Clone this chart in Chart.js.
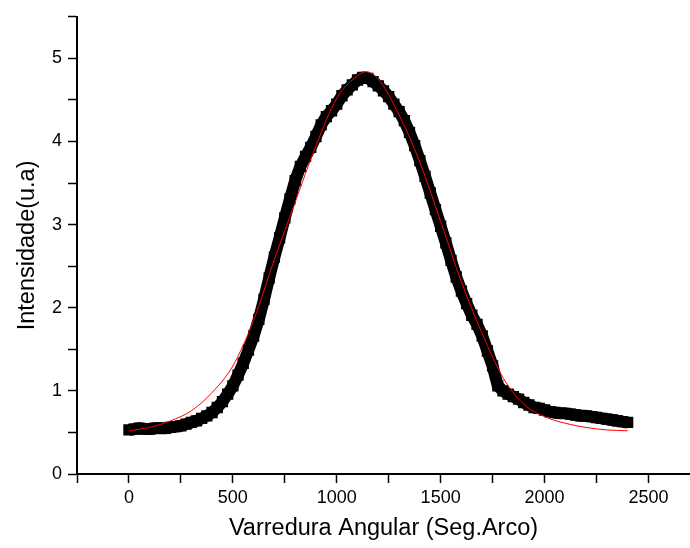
<!DOCTYPE html>
<html>
<head>
<meta charset="utf-8">
<script src="https://cdn.jsdelivr.net/npm/chart.js@4"></script>
<style>
  html, body { margin: 0; padding: 0; background: #fff; overflow: hidden; }
  #wrap { width: 690px; height: 548px; position: relative; }
</style>
</head>
<body>
<div id="wrap"><canvas id="chart"></canvas></div>
<script>
// measured points (angle in arc seconds, intensity a.u.)
const scanAngle = [0, 25, 50, 75, 100, 125, 150, 175, 200, 225, 250, 275, 300, 325, 350, 375, 400, 425, 450, 475,
  500, 525, 550, 575, 600, 625, 650, 675, 700, 725, 750, 775, 800, 825, 850, 875, 900, 925, 950, 975,
  1000, 1025, 1050, 1075, 1100, 1125, 1150, 1175, 1200, 1225, 1250, 1275, 1300, 1325, 1350, 1375, 1400, 1425, 1450, 1475,
  1500, 1525, 1550, 1575, 1600, 1625, 1650, 1675, 1700, 1725, 1750, 1775, 1800, 1825, 1850, 1875, 1900, 1925, 1950, 1975,
  2000, 2025, 2050, 2075, 2100, 2125, 2150, 2175, 2200, 2225, 2250, 2275, 2300, 2325, 2350, 2375, 2400];
const intensity = [0.53, 0.54, 0.55, 0.54, 0.54, 0.55, 0.55, 0.55, 0.56, 0.57, 0.58, 0.60, 0.62, 0.64, 0.67, 0.70, 0.74, 0.80, 0.87, 0.96,
  1.06, 1.19, 1.33, 1.49, 1.66, 1.86, 2.10, 2.36, 2.61, 2.84, 3.08, 3.31, 3.53, 3.70, 3.82, 3.93, 4.06, 4.20, 4.30, 4.37,
  4.45, 4.55, 4.62, 4.68, 4.74, 4.77, 4.76, 4.72, 4.67, 4.61, 4.54, 4.45, 4.36, 4.25, 4.11, 3.95, 3.77, 3.58, 3.38, 3.18,
  2.98, 2.78, 2.57, 2.37, 2.20, 2.05, 1.91, 1.80, 1.66, 1.48, 1.30, 1.06, 1.00, 0.96, 0.93, 0.90, 0.86, 0.83, 0.80, 0.79,
  0.77, 0.75, 0.74, 0.73, 0.73, 0.72, 0.71, 0.70, 0.70, 0.69, 0.68, 0.67, 0.66, 0.65, 0.64, 0.63, 0.62];

// fitted curve (red)
const fitAngle = [0, 100, 200, 300, 400, 500, 600, 700, 800, 900, 1000, 1100, 1140, 1200, 1300, 1400, 1500, 1600, 1700, 1800, 1900, 2000, 2100, 2200, 2300, 2400];
const fitValue = [0.52, 0.56, 0.64, 0.76, 0.98, 1.30, 1.85, 2.58, 3.27, 3.95, 4.52, 4.79, 4.84, 4.75, 4.32, 3.75, 3.04, 2.31, 1.69, 1.16, 0.84, 0.69, 0.61, 0.56, 0.53, 0.52];

// tick marks (major ones get a label)
const xTickMarks = [-250, 0, 250, 500, 750, 1000, 1250, 1500, 1750, 2000, 2250, 2500];
const xTickLabels = [0, 500, 1000, 1500, 2000, 2500];
const yTickMarks = [0, 0.5, 1, 1.5, 2, 2.5, 3, 3.5, 4, 4.5, 5, 5.5];
const yTickLabels = [0, 1, 2, 3, 4, 5];

const toPoints = (xs, ys) => xs.map((x, i) => ({ x: x, y: ys[i] }));

const tickFont = { family: "'Liberation Sans', Arial, sans-serif", size: 18 };
const titleFont = { family: "'Liberation Sans', Arial, sans-serif", size: 23.5 };

new Chart(document.getElementById('chart').getContext('2d'), {
  type: 'scatter',
  data: {
    datasets: [
      {
        label: 'Ajuste',
        type: 'line',
        data: toPoints(fitAngle, fitValue),
        borderColor: '#ff0000',
        borderWidth: 1,
        pointRadius: 0,
        fill: false,
        cubicInterpolationMode: 'monotone',
        order: 0
      },
      {
        label: 'Dados',
        data: toPoints(scanAngle, intensity),
        showLine: true,
        borderColor: '#000',
        borderWidth: 12,
        borderJoinStyle: 'round',
        pointStyle: 'rect',
        pointRadius: 8,
        pointBorderWidth: 0,
        backgroundColor: '#000',
        order: 1
      }
    ]
  },
  options: {
    responsive: true,
    maintainAspectRatio: false,
    animation: false,
    layout: { autoPadding: false, padding: { top: 15, right: 0, left: 0, bottom: 0 } },
    plugins: {
      legend: { display: false },
      tooltip: { enabled: false }
    },
    scales: {
      x: {
        type: 'linear',
        min: -250,
        max: 2700,
        afterFit: s => { s.height = 74; },
        afterBuildTicks: s => { s.ticks = xTickMarks.map(v => ({ value: v })); },
        ticks: {
          autoSkip: false,
          maxRotation: 0,
          padding: 4,
          color: '#000',
          font: tickFont,
          callback: v => xTickLabels.includes(v) ? String(v) : ''
        },
        grid: { drawOnChartArea: false, drawTicks: true, tickLength: 9, tickColor: '#000', tickWidth: 1.5 },
        border: { display: true, color: '#000', width: 2 },
        title: {
          display: true,
          text: 'Varredura Angular (Seg.Arco)',
          color: '#000',
          font: titleFont,
          padding: { top: 0, bottom: 5 }
        }
      },
      y: {
        min: 0,
        max: 5.5,
        afterFit: s => { s.width = 77; },
        afterBuildTicks: s => { s.ticks = yTickMarks.map(v => ({ value: v })); },
        ticks: {
          autoSkip: false,
          padding: 6,
          color: '#000',
          font: tickFont,
          callback: v => yTickLabels.includes(v) ? String(v) : ''
        },
        grid: { drawOnChartArea: false, drawTicks: true, tickLength: 9, tickColor: '#000', tickWidth: 1.5 },
        border: { display: true, color: '#000', width: 2 },
        title: {
          display: true,
          text: 'Intensidade(u.a)',
          color: '#000',
          font: titleFont,
          padding: { top: 13, bottom: 0 }
        }
      }
    }
  }
});
</script>
</body>
</html>
